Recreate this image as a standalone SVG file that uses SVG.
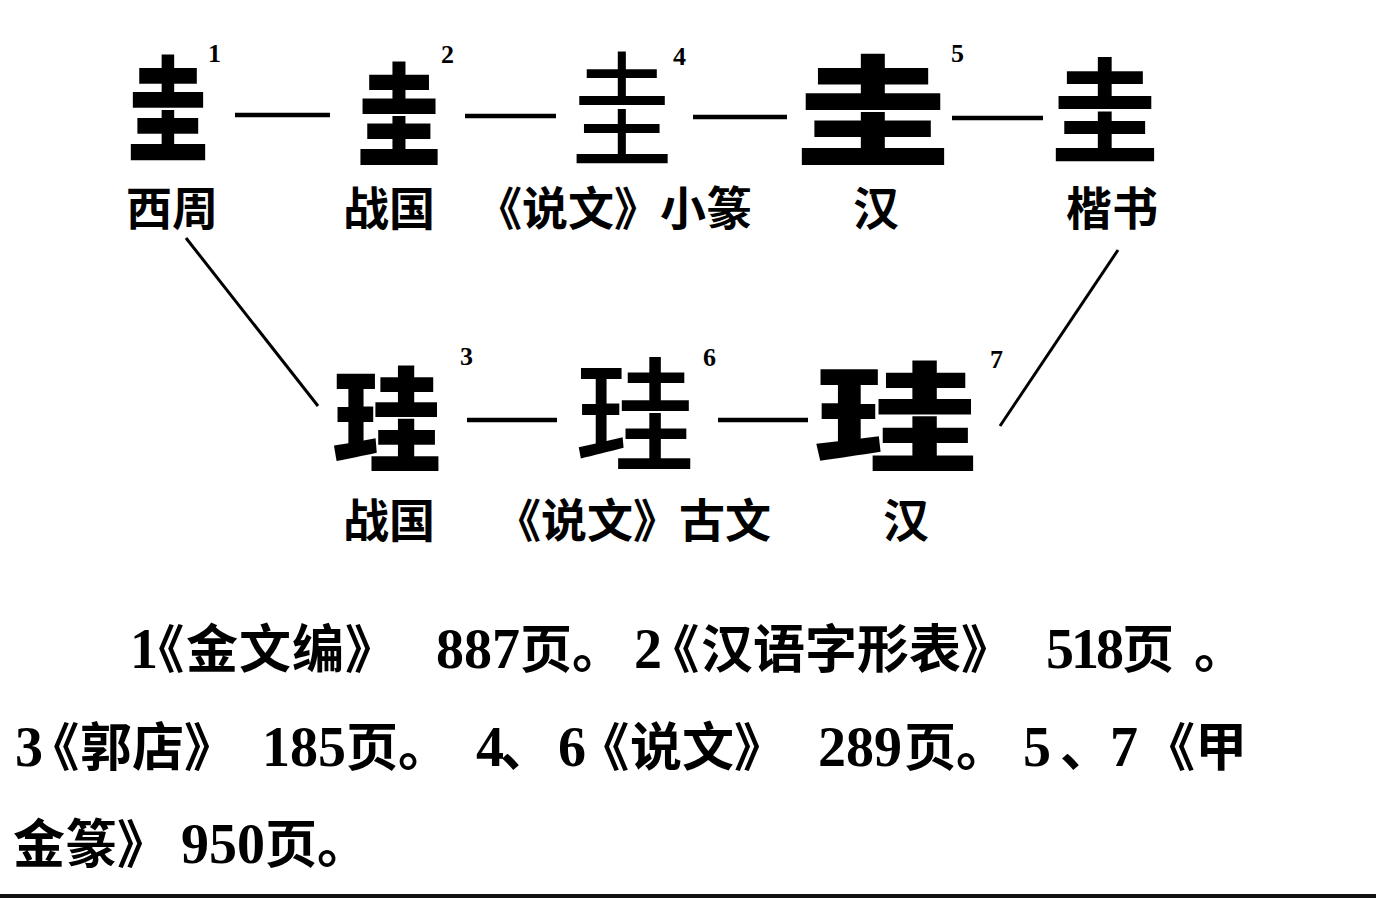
<svg xmlns="http://www.w3.org/2000/svg" width="1376" height="898" viewBox="0 0 1376 898">
<style>
.big{font-family:"Noto Sans CJK SC","Noto Sans CJK TC",sans-serif;font-weight:900;fill:#000;text-anchor:middle}
.w4{font-weight:400}
.w5{font-weight:500}
.w7{font-weight:700}
.lbl{font-family:"Noto Sans CJK SC","Noto Sans CJK TC",sans-serif;font-weight:700;font-size:46px;fill:#000}
.sup{font-family:"Liberation Serif",serif;font-weight:700;font-size:26px;fill:#000}
.fn{font-family:"Noto Sans CJK SC","Noto Sans CJK TC",sans-serif;font-weight:700;font-size:52px;fill:#000}
.pa{font-feature-settings:"palt"}
.dg{font-family:"Liberation Serif",serif;font-weight:700;font-size:56px;fill:#000}
.con{stroke:#000;fill:none}
.dash{stroke-width:4.5}
.diag{stroke-width:3}
</style>
<rect width="1376" height="898" fill="#fff"/>

<g id="connectors" class="con">
<line class="dash" x1="235" y1="115" x2="330" y2="115"/>
<line class="dash" x1="465" y1="116" x2="556" y2="116"/>
<line class="dash" x1="693" y1="117" x2="787" y2="117"/>
<line class="dash" x1="952" y1="118" x2="1043" y2="118"/>
<line class="dash" x1="467" y1="420" x2="557" y2="420"/>
<line class="dash" x1="718" y1="420" x2="808" y2="420"/>
<line class="diag" x1="186" y1="238" x2="318" y2="406"/>
<line class="diag" x1="1118" y1="250" x2="1000" y2="426"/>
</g>

<g id="n1">
<text class="big" font-size="114" transform="translate(168,152) scale(0.71,1)">圭</text>
<text class="sup" x="208" y="62">1</text>
<text class="lbl" x="126" y="225">西周</text>
</g>
<g id="n2">
<text class="big" font-size="112" transform="translate(399,157.5) scale(0.75,1)">圭</text>
<text class="sup" x="441" y="63">2</text>
<text class="lbl" x="343" y="225">战国</text>
</g>
<g id="n4">
<text class="big w4" font-size="125" transform="translate(622,156.5) scale(0.82,1)">圭</text>
<text class="sup" x="673" y="65">4</text>
<text class="lbl" x="476" y="225">《说文》小篆</text>
</g>
<g id="n5">
<text class="big" font-size="120" transform="translate(873,157) scale(1.29,1)">圭</text>
<text class="sup" x="951" y="62">5</text>
<text class="lbl" x="853" y="225">汉</text>
</g>
<g id="n8">
<text class="big w7" font-size="114" transform="translate(1105,154) scale(0.95,1)">圭</text>
<text class="lbl" x="1066" y="225">楷书</text>
</g>

<g id="n3">
<text class="big" font-size="113" transform="translate(387,462) scale(0.96,1)">珪</text>
<text class="sup" x="460" y="365">3</text>
<text class="lbl" x="343" y="537">战国</text>
</g>
<g id="n6">
<text class="big w5" font-size="124" transform="translate(635,462) scale(0.96,1)">珪</text>
<text class="sup" x="703" y="366">6</text>
<text class="lbl" x="495" y="537">《说文》古文</text>
</g>
<g id="n7">
<text class="big" font-size="118" transform="translate(896,462) scale(1.38,1)">珪</text>
<text class="sup" x="990" y="368">7</text>
<text class="lbl" x="883" y="537">汉</text>
</g>

<g id="footnote">
<text y="668"><tspan class="dg" x="130">1</tspan><tspan class="fn pa" x="158">《</tspan><tspan class="fn" x="186" letter-spacing="1">金文编》</tspan><tspan class="dg" x="436">887</tspan><tspan class="fn" x="520">页。</tspan><tspan class="dg" x="634">2</tspan><tspan class="fn pa" x="673">《</tspan><tspan class="fn" x="701" font-size="53">汉语字形表》</tspan><tspan class="dg" x="1046" letter-spacing="-3">518</tspan><tspan class="fn" x="1122">页</tspan><tspan class="fn" x="1194">。</tspan></text>
<text y="766"><tspan class="dg" x="15">3</tspan><tspan class="fn pa" x="53">《</tspan><tspan class="fn" x="80">郭店》</tspan><tspan class="dg" x="262">185</tspan><tspan class="fn" x="346">页。</tspan><tspan class="dg" x="476">4</tspan><tspan class="fn" x="500">、</tspan><tspan class="dg" x="558">6</tspan><tspan class="fn pa" x="603">《</tspan><tspan class="fn" x="630">说文》</tspan><tspan class="dg" x="818">289</tspan><tspan class="fn" x="904">页。</tspan><tspan class="dg" x="1023">5</tspan><tspan class="fn" x="1060">、</tspan><tspan class="dg" x="1110">7</tspan><tspan class="fn" x="1143">《甲</tspan></text>
<text y="863"><tspan class="fn" x="13">金篆》</tspan><tspan class="dg" x="181">950</tspan><tspan class="fn" x="265">页。</tspan></text>
</g>

<rect x="0" y="894" width="1376" height="4" fill="#111"/>
</svg>
